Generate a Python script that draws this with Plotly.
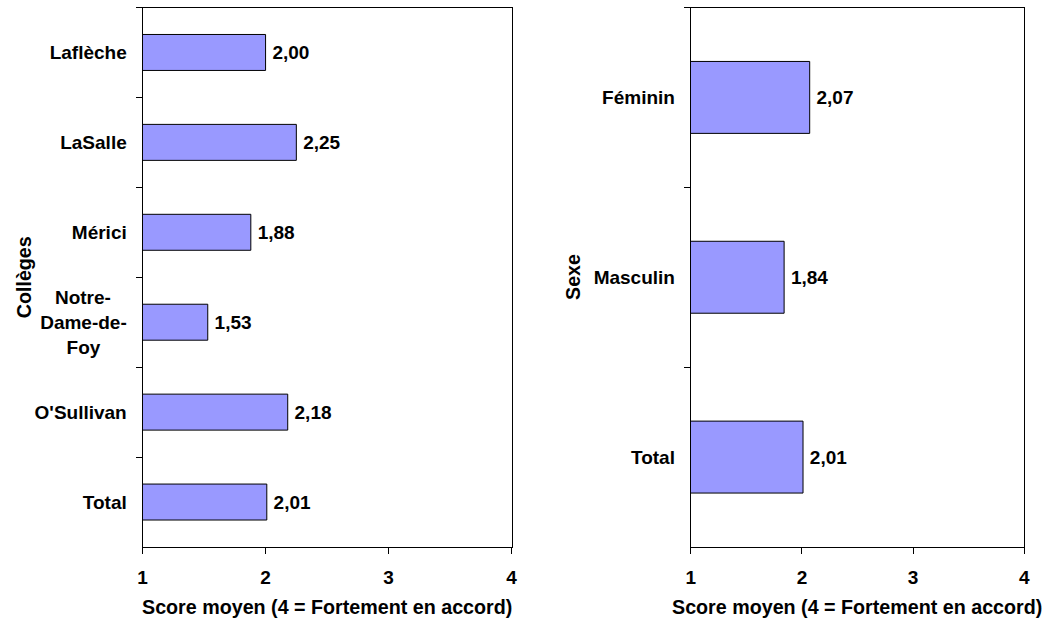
import plotly.graph_objects as go

# ---- data ----
colleges = ["Laflèche", "LaSalle", "Mérici",
            "Notre-\u00a0\u00a0\u00a0<br>Dame-de-<br>Foy\u00a0\u00a0\u00a0\u00a0\u00a0",
            "O'Sullivan", "Total"]
college_scores = [2.00, 2.25, 1.88, 1.53, 2.18, 2.01]

sexes = ["Féminin", "Masculin", "Total"]
sex_scores = [2.07, 1.84, 2.01]

x_ticks = [1, 2, 3, 4]
x_title = "Score moyen (4 = Fortement en accord)"
left_ytitle = "Collèges"
right_ytitle = "Sexe"

# ---- style ----
FONT = "Liberation Sans, Arial, sans-serif"
FS = 19
W, H = 1052, 622
BAR = "#9999FF"

left_dom = [139 / W, 512 / W]
right_dom = [693 / W, 1030 / W]
y_dom = [(H - 547) / H, (H - 7.5) / H]

fig = go.Figure()

common_bar = dict(
    orientation="h",
    marker=dict(color=BAR, line=dict(color="black", width=1)),
    texttemplate="\u2009%{x:.2f}",
    textposition="outside",
    textfont=dict(family=FONT, size=FS, color="black", weight="bold"),
    constraintext="none",
    cliponaxis=False,
    showlegend=False,
    hoverinfo="skip",
)

fig.add_trace(go.Bar(x=college_scores, y=colleges,
                     xaxis="x", yaxis="y", **common_bar))
fig.add_trace(go.Bar(x=sex_scores, y=sexes,
                     xaxis="x2", yaxis="y2", **common_bar))

xaxis_common = dict(
    range=[1, 4], tickvals=x_ticks, ticks="outside", ticklen=6,
    tickcolor="black", tickwidth=1, showline=True, linecolor="black",
    linewidth=1, mirror=True, showgrid=False, zeroline=False,
    tickfont=dict(family=FONT, size=FS, color="black", weight="bold"),
    ticklabelstandoff=7, fixedrange=True,
)
yaxis_common = dict(
    type="category", autorange="reversed", tickson="boundaries",
    ticks="outside", ticklen=6, tickcolor="black", tickwidth=1,
    showline=True, linecolor="black", linewidth=1, mirror=True,
    showgrid=False, zeroline=False,
    tickfont=dict(family=FONT, size=FS, color="black", weight="bold"),
    ticklabelstandoff=11, fixedrange=True,
)

fig.update_layout(
    width=W, height=H,
    margin=dict(l=0, r=0, t=0, b=0),
    paper_bgcolor="white", plot_bgcolor="white",
    separators=", ",
    bargap=0.6,
    font=dict(family=FONT, size=FS, color="black"),
    xaxis=dict(domain=left_dom, anchor="y", **xaxis_common),
    yaxis=dict(domain=y_dom, anchor="x", **yaxis_common),
    xaxis2=dict(domain=right_dom, anchor="y2", **xaxis_common),
    yaxis2=dict(domain=y_dom, anchor="x2", **yaxis_common),
)

title_font = dict(family=FONT, size=19.7, color="black", weight="bold")
ty = (H - 607) / H
fig.add_annotation(text=x_title, xref="paper", yref="paper",
                   x=(left_dom[0] + left_dom[1]) / 2, y=ty,
                   xanchor="center", yanchor="middle", showarrow=False,
                   font=title_font)
fig.add_annotation(text=x_title, xref="paper", yref="paper",
                   x=(right_dom[0] + right_dom[1]) / 2, y=ty,
                   xanchor="center", yanchor="middle", showarrow=False,
                   font=title_font)
ymid = (H - 277) / H
fig.add_annotation(text=left_ytitle, xref="paper", yref="paper",
                   x=19.5 / W, y=ymid, textangle=-90,
                   xanchor="center", yanchor="middle", showarrow=False,
                   font=title_font)
fig.add_annotation(text=right_ytitle, xref="paper", yref="paper",
                   x=574 / W, y=ymid, textangle=-90,
                   xanchor="center", yanchor="middle", showarrow=False,
                   font=title_font)

fig.write_html(
    "out.html",
    config={"displayModeBar": False, "staticPlot": True},
    post_script="document.body.style.margin='0px';document.body.style.overflow='hidden';",
)
